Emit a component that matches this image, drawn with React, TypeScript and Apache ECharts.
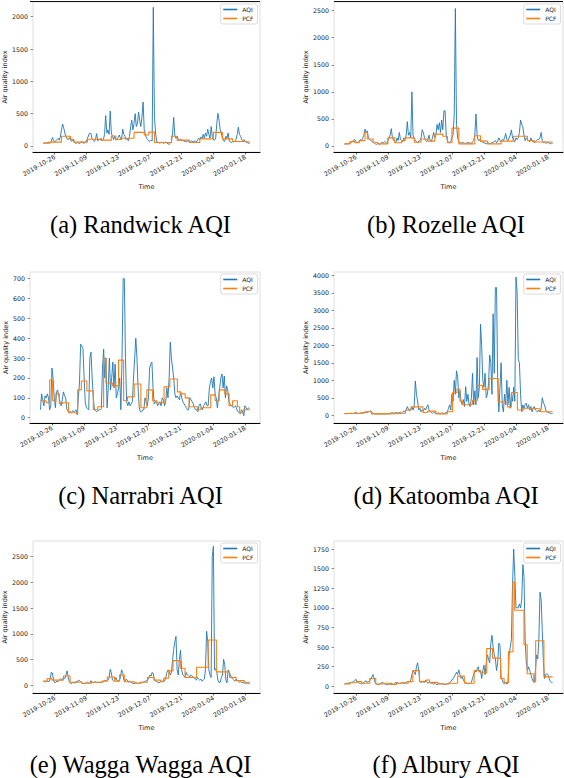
import React, { useEffect, useRef } from "react";
import * as echarts from "echarts";

// x positions are days relative to 2019-10-26; AQI sampled every half day from day -5
const AQI_START_DAY = -5;
const AQI_STEP_DAYS = 0.5;
const TICK_DAYS = [0, 14, 28, 42, 56, 70, 84];
const SERIES_NAMES = ["AQI", "PCF"];

// ---------- (a) Randwick ----------
const randwickAqi = [
  40, 45, 50, 42, 55, 60, 50, 70, 130, 90,
  60, 80, 100, 120, 90, 140, 250, 340, 280, 200,
  150, 110, 100, 130, 90, 70, 100, 60, 50, 40,
  55, 45, 35, 60, 70, 50, 40, 60, 80, 120,
  170, 200, 190, 110, 90, 70, 100, 190, 80, 110,
  90, 120, 80, 100, 180, 470, 200, 250, 180, 540,
  200, 150, 100, 150, 90, 110, 130, 170, 120, 100,
  260, 180, 150, 100, 120, 80, 150, 300, 400, 250,
  350, 500, 300, 350, 525, 400, 300, 450, 680, 250,
  180, 120, 100, 80, 70, 90, 80, 2145, 450, 200,
  70, 60, 50, 45, 60, 55, 40, 50, 60, 45,
  35, 25, 40, 60, 200, 443, 150, 120, 150, 100,
  90, 110, 80, 90, 70, 80, 60, 75, 70, 55,
  65, 80, 60, 70, 80, 60, 90, 120, 100, 140,
  110, 180, 120, 200, 150, 260, 180, 120, 300, 150,
  100, 90, 120, 350, 505, 400, 250, 200, 120, 80,
  70, 150, 120, 200, 80, 60, 50, 70, 60, 80,
  100, 180, 290, 180, 150, 100, 80, 100, 70, 60,
  50, 40, 45,
];
const randwickPcfDays = [-5, -2, 3, 7, 8.5, 14.5, 20.5, 25, 27, 29.5, 35, 39.5, 41.5, 44, 51.5, 54, 59.5, 64, 70, 74, 78.5, 84, 86];
const randwickPcf = [45, 60, 150, 100, 60, 105, 90, 155, 100, 120, 210, 170, 215, 55, 150, 90, 55, 110, 210, 110, 70, 60, 60];

// ---------- (b) Rozelle ----------
const rozelleAqi = [
  35, 40, 38, 45, 50, 60, 70, 80, 110, 120,
  80, 60, 70, 90, 120, 100, 150, 200, 310, 250,
  280, 150, 120, 100, 90, 70, 60, 40, 30, 50,
  40, 30, 50, 70, 60, 80, 70, 50, 100, 150,
  200, 320, 150, 100, 80, 60, 150, 100, 250, 120,
  100, 80, 150, 120, 200, 450, 200, 250, 150, 1000,
  200, 150, 100, 80, 60, 90, 100, 150, 300, 250,
  150, 100, 80, 120, 200, 100, 80, 150, 250, 150,
  200, 400, 300, 430, 250, 480, 300, 650, 650, 200,
  100, 80, 60, 80, 150, 200, 580, 2540, 400, 150,
  80, 60, 50, 70, 60, 50, 40, 60, 70, 50,
  60, 40, 80, 100, 200, 590, 200, 100, 120, 80,
  90, 70, 60, 50, 40, 50, 60, 40, 50, 60,
  70, 80, 100, 60, 90, 150, 100, 80, 120, 100,
  150, 230, 120, 100, 150, 200, 296, 150, 100, 80,
  150, 120, 150, 250, 480, 400, 350, 200, 100, 150,
  120, 100, 80, 150, 100, 80, 60, 80, 100, 120,
  120, 150, 250, 100, 60, 80, 50, 60, 70, 50,
  40, 50, 45,
];
const rozellePcfDays = [-5, -2.5, -0.5, 1.5, 4, 5, 7.5, 9.5, 14, 17, 20, 21.5, 25.5, 28.5, 31.5, 34.5, 38, 40, 42, 45, 52, 54.5, 57.5, 63.5, 69, 75, 78, 86];
const rozellePcf = [40, 80, 60, 100, 250, 130, 70, 40, 150, 60, 100, 150, 70, 130, 90, 220, 180, 60, 330, 40, 190, 90, 40, 90, 180, 100, 75, 75];

// ---------- (c) Narrabri ----------
const narrabriAqi = [
  40, 120, 90, 60, 110, 100, 120, 100, 40, 60,
  250, 200, 100, 50, 130, 140, 110, 80, 60, 90,
  130, 110, 100, 40, 35, 30, 30, 25, 35, 30,
  35, 40, 15, 100, 180, 370, 360, 350, 200, 80,
  50, 45, 40, 300, 330, 200, 100, 40, 35, 30,
  35, 40, 40, 45, 250, 345, 200, 300, 50, 150,
  300, 140, 200, 280, 150, 270, 100, 120, 150, 200,
  40, 300, 700, 700, 300, 80, 60, 80, 60, 70,
  80, 200, 300, 400, 300, 150, 50, 30, 30, 40,
  40, 100, 80, 60, 100, 250, 270, 280, 150, 70,
  80, 80, 60, 70, 80, 60, 100, 90, 60, 80,
  150, 100, 200, 380, 300, 250, 200, 120, 100, 110,
  100, 90, 130, 100, 80, 70, 60, 50, 40, 40,
  100, 90, 80, 70, 50, 40, 40, 30, 60, 70,
  50, 40, 60, 70, 80, 60, 60, 150, 180, 200,
  150, 206, 120, 100, 50, 100, 150, 200, 220, 150,
  210, 100, 160, 140, 80, 70, 60, 60, 50, 55,
  60, 40, 30, 25, 20, 40, 30, 10, 60, 50,
  40, 50, 45,
];
const narrabriPcfDays = [-5, -2.5, -1, 0.3, 1.7, 3.2, 4.6, 7.2, 11.2, 12.8, 15.2, 18, 19.9, 22.5, 23.5, 26.4, 29, 31.2, 32.9, 35.8, 38.7, 41.3, 43.8, 45.7, 48.8, 51.3, 54.6, 56, 58, 59.7, 63.3, 64.8, 69.1, 71, 72.8, 75.2, 77.1, 78.6, 80.7, 81.7, 83.3, 86];
const narrabriPcf = [85, 75, 190, 85, 120, 70, 75, 25, 140, 185, 135, 40, 55, 300, 175, 160, 290, 85, 105, 170, 50, 140, 85, 75, 155, 195, 130, 120, 100, 55, 40, 50, 115, 85, 140, 120, 60, 85, 55, 25, 40, 40];

// ---------- (d) Katoomba ----------
const katoombaAqi = [
  40, 50, 45, 50, 55, 50, 60, 50, 55, 70,
  90, 60, 50, 55, 60, 70, 65, 80, 90, 70,
  80, 100, 110, 130, 80, 60, 40, 45, 35, 40,
  40, 35, 45, 40, 35, 40, 45, 40, 50, 45,
  60, 70, 80, 60, 70, 80, 60, 70, 80, 90,
  70, 100, 120, 90, 150, 250, 180, 120, 200, 250,
  150, 250, 980, 600, 400, 150, 200, 100, 150, 120,
  200, 150, 250, 300, 150, 100, 80, 60, 90, 70,
  60, 50, 70, 60, 50, 60, 70, 50, 60, 80,
  100, 200, 300, 150, 600, 400, 1000, 600, 1270, 1100,
  500, 700, 400, 300, 450, 250, 820, 400, 600, 300,
  250, 500, 1200, 300, 700, 300, 1650, 500, 800, 2600,
  2000, 1000, 800, 1200, 500, 600, 900, 1720, 1500, 600,
  2900, 1200, 3650, 3650, 1000, 100, 800, 1500, 300, 100,
  600, 300, 1000, 300, 800, 200, 600, 400, 800, 400,
  3950, 3500, 1600, 1500, 600, 100, 300, 200, 300, 350,
  200, 300, 150, 250, 100, 200, 250, 150, 120, 100,
  150, 100, 200, 500, 350, 300, 150, 100, 80, 70,
  60, 50, 50,
];
const katoombaPcfDays = [-5, 1, 4, 6.8, 15.5, 21.7, 24.2, 29.3, 31.4, 35, 40, 42.3, 44.2, 45.5, 46.7, 48.8, 51, 53.2, 55.4, 58.3, 62.2, 66.2, 68, 70.6, 73.5, 77.8, 80.7, 86];
const katoombaPcf = [50, 70, 100, 40, 60, 150, 240, 80, 120, 40, 100, 650, 750, 400, 300, 320, 430, 850, 740, 1050, 380, 240, 650, 150, 200, 180, 100, 100];

// ---------- (e) Wagga Wagga ----------
const waggaAqi = [
  70, 80, 65, 75, 80, 70, 120, 250, 240, 100,
  50, 60, 80, 70, 100, 120, 110, 130, 150, 130,
  200, 280, 150, 60, 40, 30, 60, 50, 40, 80,
  60, 100, 90, 70, 50, 30, 40, 35, 50, 60,
  40, 50, 90, 60, 50, 60, 70, 50, 60, 55,
  50, 60, 80, 70, 100, 90, 80, 100, 150, 310,
  250, 100, 80, 100, 150, 100, 80, 90, 150, 300,
  250, 100, 80, 120, 100, 60, 80, 60, 50, 40,
  30, 45, 50, 40, 35, 50, 60, 50, 60, 70,
  80, 90, 100, 150, 200, 180, 250, 220, 100, 80,
  70, 60, 50, 60, 80, 70, 100, 80, 150, 250,
  300, 280, 200, 250, 500, 700, 850, 950, 300, 200,
  500, 680, 300, 200, 180, 150, 250, 200, 180, 160,
  200, 180, 160, 150, 120, 100, 150, 120, 100, 120,
  80, 100, 120, 300, 1050, 850, 300, 200, 150, 2500,
  2700, 300, 320, 250, 100, 50, 60, 150, 200, 505,
  400, 100, 50, 300, 250, 200, 150, 120, 100, 80,
  120, 100, 80, 60, 70, 50, 60, 40, 50, 30,
  40, 35, 30,
];
const waggaPcfDays = [-5, -3.3, -1.2, 3.9, 6.8, 9.7, 11.9, 16.2, 21.3, 23.2, 26.4, 28.6, 30.7, 35.1, 38, 40.9, 43.8, 46.7, 48.1, 50.3, 52.2, 55.4, 57.5, 62.6, 67.7, 71.3, 77.1, 80, 83.6, 86];
const waggaPcf = [80, 130, 100, 180, 60, 70, 40, 60, 80, 160, 80, 200, 70, 40, 60, 150, 100, 70, 140, 280, 480, 330, 150, 350, 880, 260, 150, 90, 60, 60];

// ---------- (f) Albury ----------
const alburyAqi = [
  30, 35, 40, 35, 45, 40, 50, 55, 60, 70,
  90, 60, 50, 40, 35, 30, 40, 50, 60, 70,
  50, 60, 70, 100, 120, 150, 100, 40, 30, 20,
  25, 30, 40, 50, 45, 30, 25, 20, 25, 30,
  35, 40, 30, 25, 40, 50, 45, 40, 35, 40,
  45, 50, 40, 45, 50, 60, 55, 60, 80, 150,
  200, 180, 150, 250, 300, 200, 60, 50, 60, 55,
  50, 80, 60, 40, 50, 45, 40, 35, 30, 40,
  25, 20, 30, 40, 35, 30, 40, 20, 25, 30,
  30, 40, 50, 60, 80, 100, 120, 150, 180, 150,
  210, 150, 100, 120, 80, 60, 50, 40, 30, 40,
  35, 50, 100, 150, 200, 180, 220, 250, 180, 200,
  100, 200, 270, 150, 300, 400, 350, 300, 550, 650,
  500, 400, 350, 200, 300, 550, 520, 100, 80, 40,
  30, 50, 30, 40, 400, 500, 600, 1300, 1750, 1400,
  1000, 1000, 1000, 1050, 1000, 1100, 1550, 1400, 600, 300,
  200, 250, 200, 150, 100, 60, 50, 200, 400, 350,
  600, 1200, 1100, 700, 300, 100, 150, 160, 150, 100,
  60, 50, 50,
];
const alburyPcfDays = [-5, -2.6, 0.3, 2.5, 6.1, 8.7, 11.9, 14.8, 17.7, 22.8, 24.9, 27.8, 30.7, 32.2, 35.8, 40.9, 44.5, 47.4, 51.7, 54.6, 57.2, 59.7, 63.3, 64.8, 66.7, 68.7, 69.4, 73.5, 74.9, 77.8, 78.6, 82.2, 86];
const alburyPcf = [30, 45, 60, 40, 100, 30, 40, 25, 40, 60, 200, 60, 80, 50, 30, 40, 130, 40, 200, 170, 480, 360, 100, 50, 440, 1330, 970, 530, 160, 60, 580, 120, 120];

// y tick labels per panel
const ticksA = [0, 500, 1000, 1500, 2000];
const ticksB = [0, 500, 1000, 1500, 2000, 2500];
const ticksC = [0, 100, 200, 300, 400, 500, 600, 700];
const ticksD = [0, 500, 1000, 1500, 2000, 2500, 3000, 3500, 4000];
const ticksE = [0, 500, 1000, 1500, 2000, 2500];
const ticksF = [0, 250, 500, 750, 1000, 1250, 1500, 1750];

const captions = [
  "(a) Randwick AQI",
  "(b) Rozelle AQI",
  "(c) Narrabri AQI",
  "(d) Katoomba AQI",
  "(e) Wagga Wagga AQI",
  "(f) Albury AQI",
];

// ---------- layout ----------
const W = 564;
const H = 778;
const ROW_TOP = [2, 272, 541];
const ROW_H = [150, 151, 152];
const COL_LEFT = [30, 334];
const COL_W = [230, 229];
const CAP_X = [140.5, 446];
const CAP_Y = [224, 495, 764];
const X_MIN = -9.55;
const X_MAX = 90.55;
const AXIS_FONT = "'DejaVu Sans', sans-serif";
const BLUE = "#1f77b4";
const ORANGE = "#ff7f0e";

const panels = [
  { aqi: randwickAqi, pd: randwickPcfDays, pv: randwickPcf, ticks: ticksA, yMin: -93, yMax: 2227, row: 0, col: 0, nameGap: 25 },
  { aqi: rozelleAqi, pd: rozellePcfDays, pv: rozellePcf, ticks: ticksB, yMin: -111, yMax: 2660, row: 0, col: 1, nameGap: 25 },
  { aqi: narrabriAqi, pd: narrabriPcfDays, pv: narrabriPcf, ticks: ticksC, yMin: -26.7, yMax: 733.6, row: 1, col: 0, nameGap: 20 },
  { aqi: katoombaAqi, pd: katoombaPcfDays, pv: katoombaPcf, ticks: ticksD, yMin: -220, yMax: 4094, row: 1, col: 1, nameGap: 25 },
  { aqi: waggaAqi, pd: waggaPcfDays, pv: waggaPcf, ticks: ticksE, yMin: -150, yMax: 2804, row: 2, col: 0, nameGap: 25 },
  { aqi: alburyAqi, pd: alburyPcfDays, pv: alburyPcf, ticks: ticksF, yMin: -85, yMax: 1852, row: 2, col: 1, nameGap: 25 },
];

const fmtDay = (d: number) => {
  const t = new Date(Date.UTC(2019, 9, 26) + Math.round(d) * 86400000);
  return t.toISOString().slice(0, 10);
};

function buildOption() {
  const grid: any[] = [];
  const xAxis: any[] = [];
  const yAxis: any[] = [];
  const series: any[] = [];
  const legend: any[] = [];
  const graphic: any[] = [];

  panels.forEach((p, i) => {
    const left = COL_LEFT[p.col];
    const width = COL_W[p.col];
    const top = ROW_TOP[p.row];
    const height = ROW_H[p.row];
    grid.push({
      left, top, width, height,
      show: true,
      borderColor: "#dedede",
      borderWidth: 1,
      backgroundColor: "transparent",
    });
    xAxis.push({
      type: "value",
      gridIndex: i,
      min: X_MIN,
      max: X_MAX,
      axisLine: { show: true, onZero: false, lineStyle: { color: "#000", width: 1 } },
      axisTick: { show: true, customValues: TICK_DAYS, length: 2.5, lineStyle: { color: "#000", width: 0.6 } },
      axisLabel: {
        show: true,
        customValues: TICK_DAYS,
        rotate: 30,
        margin: 4,
        fontSize: 6.3,
        fontFamily: AXIS_FONT,
        color: "#222",
        formatter: (v: number) => fmtDay(v),
      },
      splitLine: { show: false },
      name: "Time",
      nameLocation: "middle",
      nameGap: 31,
      nameTextStyle: { fontSize: 6.5, fontFamily: AXIS_FONT, color: "#222" },
    });
    yAxis.push({
      type: "value",
      gridIndex: i,
      min: p.yMin,
      max: p.yMax,
      axisLine: { show: false, onZero: false },
      axisTick: { show: true, customValues: p.ticks, length: 2.5, lineStyle: { color: "#444", width: 0.6 } },
      axisLabel: {
        show: true,
        customValues: p.ticks,
        margin: 5,
        fontSize: 6.3,
        fontFamily: AXIS_FONT,
        color: "#222",
        formatter: (v: number) => String(Math.round(v)),
      },
      splitLine: { show: false },
      name: "Air quality index",
      nameLocation: "middle",
      nameRotate: 90,
      nameGap: p.nameGap,
      nameTextStyle: { fontSize: 6.5, fontFamily: AXIS_FONT, color: "#222" },
    });
    series.push({
      name: SERIES_NAMES[0],
      type: "line",
      xAxisIndex: i,
      yAxisIndex: i,
      data: p.aqi.map((v, k) => [AQI_START_DAY + k * AQI_STEP_DAYS, v]),
      showSymbol: false,
      symbol: "none",
      lineStyle: { color: BLUE, width: 0.9 },
      itemStyle: { color: BLUE },
      z: 2,
    });
    series.push({
      name: SERIES_NAMES[1],
      type: "line",
      xAxisIndex: i,
      yAxisIndex: i,
      step: "end",
      data: p.pd.map((d, k) => [d, p.pv[k]]),
      showSymbol: false,
      symbol: "none",
      lineStyle: { color: ORANGE, width: 1.1 },
      itemStyle: { color: ORANGE },
      z: 3,
    });
    legend.push({
      orient: "vertical",
      right: W - (left + width) + 2.5,
      top: top + 2,
      itemWidth: 14,
      itemHeight: 1.6,
      itemGap: 3,
      padding: [2.5, 4, 2.5, 2.5],
      borderColor: "#cccccc",
      borderWidth: 0.7,
      borderRadius: 2,
      backgroundColor: "rgba(255,255,255,0.85)",
      selectedMode: false,
      textStyle: { fontSize: 6, fontFamily: AXIS_FONT, color: "#222" },
      data: SERIES_NAMES.map((n) => ({ name: n, icon: "rect" })),
    });
    if (p.row === 0) {
      graphic.push({
        type: "line",
        shape: { x1: left, y1: 1.5, x2: left + width, y2: 1.5 },
        style: { stroke: "#111", lineWidth: 1 },
        z: 10,
      });
    }
    graphic.push({
      type: "text",
      x: CAP_X[p.col],
      y: CAP_Y[p.row],
      style: {
        text: captions[i],
        fontSize: 24.5,
        fontFamily: "'Liberation Serif', 'Times New Roman', serif",
        fill: "#000",
        align: "center",
        verticalAlign: "middle",
        textAlign: "center",
        textVerticalAlign: "middle",
      },
    });
  });

  return {
    animation: false,
    backgroundColor: "#fff",
    grid,
    xAxis,
    yAxis,
    series,
    legend,
    graphic,
  };
}

export default function App() {
  const ref = useRef<HTMLDivElement>(null);
  useEffect(() => {
    document.body.style.margin = "0";
    const chart = echarts.init(ref.current as HTMLDivElement, undefined, {
      renderer: "svg",
      width: W,
      height: H,
    });
    chart.setOption(buildOption() as any);
    return () => chart.dispose();
  }, []);
  return (
    <div
      ref={ref}
      style={{ width: W, height: H, position: "absolute", left: 0, top: 0, background: "#fff" }}
    />
  );
}
